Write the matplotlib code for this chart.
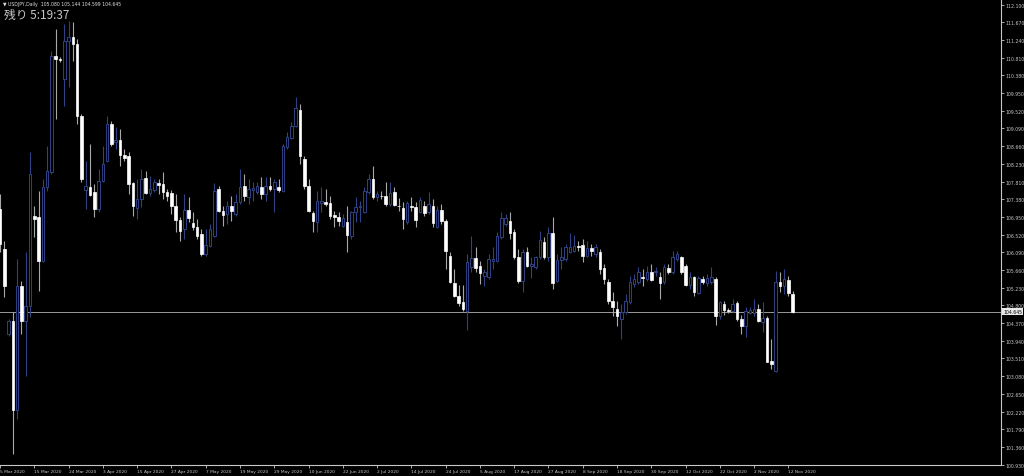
import matplotlib
matplotlib.use("Agg")
import matplotlib.pyplot as plt
import numpy as np

# daily USDJPY candles, first one (5 Mar) is cut off at the left edge
opens = [107.14, 106.17, 104.10, 104.42, 102.26, 105.27, 104.42, 104.78, 106.97, 106.94,
         105.88, 107.67, 108.04, 110.85, 110.78, 110.29, 111.22, 111.31, 111.14, 109.40,
         107.60, 107.67, 107.55, 107.14, 107.82, 108.30, 109.20, 108.76, 108.81, 108.45,
         108.42, 107.77, 107.16, 107.38, 107.89, 107.53, 107.60, 107.77, 107.75, 107.55,
         107.53, 107.21, 106.87, 106.65, 107.11, 106.80, 106.70, 106.53, 106.05, 106.24,
         106.48, 107.62, 107.09, 107.02, 107.21, 107.02, 107.31, 107.70, 107.43, 107.60,
         107.55, 107.67, 107.50, 107.70, 107.62, 107.67, 107.58, 108.64, 108.86, 109.15,
         109.54, 108.35, 107.70, 107.04, 106.82, 107.28, 107.31, 107.28, 106.99, 106.94,
         106.73, 106.82, 106.48, 107.07, 107.19, 107.07, 107.55, 107.87, 107.43, 107.46,
         107.45, 107.26, 107.55, 107.22, 107.16, 106.82, 107.21, 107.19, 107.07, 107.21,
         107.07, 107.21, 106.70, 107.11, 106.85, 106.00, 105.34, 105.03, 104.88, 104.66,
         105.73, 105.95, 105.75, 105.51, 105.49, 105.88, 105.88, 106.46, 106.77, 106.85,
         106.58, 105.97, 105.39, 106.09, 105.75, 105.73, 105.97, 106.34, 105.97, 106.56,
         105.39, 105.90, 105.92, 106.09, 106.12, 106.24, 106.26, 106.00, 106.19, 106.05,
         106.09, 105.71, 105.37, 104.90, 104.71, 104.47, 104.64, 104.88, 105.32, 105.37,
         105.49, 105.44, 105.61, 105.61, 105.49, 105.37, 105.71, 105.61, 105.92, 105.97,
         105.75, 105.29, 105.49, 105.10, 105.44, 105.34, 105.37, 105.44, 104.54, 104.83,
         104.69, 104.66, 104.86, 104.47, 104.30, 104.61, 104.61, 104.71, 104.40, 104.49,
         103.45, 103.21, 105.37, 105.27, 105.41, 105.080]
highs = [107.50, 106.36, 104.47, 104.64, 105.92, 105.39, 106.09, 108.52, 107.21, 107.58,
         107.87, 108.67, 110.97, 111.51, 110.83, 111.63, 111.70, 111.68, 111.27, 109.44,
         108.30, 108.72, 107.75, 108.11, 108.67, 109.40, 109.27, 109.13, 109.08, 108.59,
         108.52, 107.79, 107.87, 108.11, 108.06, 107.94, 107.87, 107.87, 108.04, 107.62,
         107.60, 107.50, 106.94, 107.50, 107.43, 107.07, 106.90, 106.65, 106.65, 106.77,
         107.77, 107.70, 107.21, 107.33, 107.45, 107.50, 108.11, 107.99, 107.87, 107.79,
         107.79, 107.92, 107.92, 107.92, 107.87, 107.87, 108.72, 109.01, 109.25, 109.86,
         109.69, 108.42, 107.87, 107.09, 107.58, 107.67, 107.62, 107.45, 107.09, 107.07,
         107.02, 107.21, 107.09, 107.43, 107.33, 107.67, 107.99, 108.18, 107.58, 107.58,
         107.79, 107.79, 107.67, 107.41, 107.31, 107.33, 107.43, 107.31, 107.43, 107.33,
         107.55, 107.38, 107.21, 107.26, 106.90, 106.09, 105.68, 105.29, 105.29, 106.05,
         106.48, 106.22, 105.88, 105.68, 106.05, 106.22, 106.58, 107.07, 107.02, 107.07,
         106.65, 106.17, 106.17, 106.22, 105.97, 106.00, 106.60, 106.46, 106.70, 106.94,
         106.05, 106.22, 106.29, 106.56, 106.51, 106.36, 106.41, 106.36, 106.29, 106.29,
         106.17, 105.80, 105.44, 105.12, 104.90, 104.83, 105.07, 105.51, 105.56, 105.73,
         105.68, 105.75, 105.80, 105.73, 105.61, 105.80, 105.80, 106.12, 106.12, 106.00,
         105.80, 105.61, 105.51, 105.51, 105.51, 105.56, 105.73, 105.49, 104.90, 104.90,
         104.73, 104.95, 104.90, 104.57, 104.76, 104.76, 104.95, 104.83, 104.88, 104.54,
         103.98, 105.63, 105.61, 105.68, 105.51, 105.144]
lows = [106.09, 105.00, 104.05, 101.19, 102.04, 104.10, 103.08, 104.52, 106.46, 105.15,
        105.85, 107.58, 107.99, 109.32, 110.71, 109.64, 110.10, 110.73, 109.20, 107.79,
        107.14, 107.45, 106.94, 107.07, 107.79, 108.28, 108.67, 108.59, 108.18, 108.30,
        107.50, 106.97, 106.90, 107.19, 107.50, 107.45, 107.55, 107.50, 107.38, 107.33,
        107.02, 106.58, 106.36, 106.41, 106.82, 106.63, 106.41, 106.00, 106.00, 106.22,
        106.46, 107.07, 106.73, 106.77, 106.85, 106.97, 107.26, 107.33, 107.26, 107.33,
        107.50, 107.38, 107.33, 107.58, 107.07, 107.55, 107.55, 108.59, 108.84, 109.13,
        108.23, 107.62, 107.07, 106.58, 106.58, 107.07, 107.21, 106.90, 106.70, 106.73,
        106.70, 106.09, 106.41, 106.82, 106.82, 107.05, 107.50, 107.38, 107.33, 107.38,
        107.21, 107.21, 107.21, 107.09, 106.65, 106.77, 107.09, 106.70, 107.04, 106.97,
        107.02, 106.70, 106.68, 106.77, 105.68, 105.34, 105.00, 104.78, 104.66, 104.20,
        105.61, 105.61, 105.32, 105.27, 105.44, 105.68, 105.85, 106.41, 106.73, 106.41,
        105.92, 105.34, 105.12, 105.73, 105.46, 105.68, 105.92, 105.92, 105.88, 105.20,
        105.37, 105.68, 105.88, 106.07, 106.09, 106.12, 105.85, 105.97, 106.00, 105.97,
        105.56, 105.32, 104.83, 104.54, 104.30, 103.98, 104.59, 104.83, 105.24, 105.32,
        105.27, 105.39, 105.39, 105.51, 104.95, 105.32, 105.56, 105.56, 105.88, 105.56,
        105.27, 105.20, 105.03, 105.07, 105.32, 105.27, 105.32, 104.32, 104.47, 104.57,
        104.61, 104.64, 104.42, 104.10, 104.03, 104.59, 104.54, 104.40, 104.15, 103.42,
        103.25, 103.18, 105.12, 105.07, 105.03, 104.599]
closes = [106.29, 105.27, 104.42, 102.26, 105.27, 104.42, 104.78, 107.99, 106.90, 105.88,
          107.67, 108.06, 110.85, 110.78, 110.76, 111.22, 111.31, 111.14, 109.40, 107.87,
          107.70, 107.48, 107.14, 107.82, 108.23, 109.20, 108.72, 108.81, 108.45, 108.38,
          107.75, 107.21, 107.38, 107.87, 107.53, 107.62, 107.79, 107.72, 107.55, 107.45,
          107.21, 106.87, 106.60, 107.11, 106.92, 106.70, 106.48, 106.05, 106.26, 106.65,
          107.58, 107.09, 106.99, 107.21, 107.09, 107.31, 107.67, 107.45, 107.62, 107.65,
          107.70, 107.50, 107.70, 107.62, 107.79, 107.60, 108.67, 108.89, 109.15, 109.59,
          108.42, 107.70, 107.09, 106.85, 107.33, 107.33, 107.26, 106.97, 106.94, 106.85,
          106.92, 106.51, 107.07, 107.19, 107.21, 107.58, 107.87, 107.43, 107.50, 107.45,
          107.26, 107.53, 107.24, 107.20, 106.90, 107.28, 107.19, 106.87, 107.36, 107.04,
          107.26, 106.80, 107.11, 106.85, 106.12, 105.37, 105.03, 104.86, 104.71, 105.85,
          105.95, 105.71, 105.58, 105.61, 105.92, 105.92, 106.48, 106.92, 106.92, 106.56,
          105.97, 105.39, 106.09, 105.75, 105.80, 105.97, 106.39, 105.97, 106.56, 105.34,
          105.90, 105.97, 106.22, 106.22, 106.24, 106.22, 106.00, 106.19, 106.12, 106.22,
          105.68, 105.44, 104.90, 104.76, 104.54, 104.64, 104.90, 105.37, 105.44, 105.61,
          105.46, 105.61, 105.41, 105.63, 105.34, 105.73, 105.61, 105.97, 106.05, 105.61,
          105.29, 105.49, 105.12, 105.46, 105.37, 105.46, 105.49, 104.54, 104.88, 104.69,
          104.66, 104.83, 104.47, 104.30, 104.66, 104.69, 104.71, 104.42, 104.49, 103.43,
          103.38, 105.37, 105.27, 105.44, 105.10, 104.645]

date_labels = ["5 Mar 2020", "15 Mar 2020", "24 Mar 2020", "3 Apr 2020", "15 Apr 2020",
               "27 Apr 2020", "7 May 2020", "19 May 2020", "29 May 2020", "10 Jun 2020",
               "22 Jun 2020", "2 Jul 2020", "14 Jul 2020", "24 Jul 2020", "5 Aug 2020",
               "17 Aug 2020", "27 Aug 2020", "8 Sep 2020", "18 Sep 2020", "30 Sep 2020",
               "12 Oct 2020", "22 Oct 2020", "2 Nov 2020", "12 Nov 2020"]
price_labels = ["100.930", "101.360", "101.790", "102.220", "102.650", "103.080", "103.510",
                "103.940", "104.370", "104.800", "105.230", "105.660", "106.090", "106.520",
                "106.950", "107.380", "107.810", "108.230", "108.660", "109.090", "109.520",
                "109.950", "110.380", "110.810", "111.240", "111.670", "112.100"]

o = np.array(opens)
h = np.array(highs)
l = np.array(lows)
c = np.array(closes)
x = np.arange(len(o)) - 1
up = c >= o

bull_col = '#2f4285'
bear_col = '#ffffff'
bear_wick = '#a8a8a8'
axis_col = '#c8c8c8'

fig = plt.figure(figsize=(10.24, 4.77), dpi=100, facecolor='black')
ax = fig.add_axes([0, 11/477, 1001/1024, 466/477], facecolor='black')

# wicks
ax.vlines(x[up], l[up], h[up], color=bull_col, lw=0.8, zorder=2)
ax.vlines(x[~up], l[~up], h[~up], color=bear_wick, lw=0.8, zorder=2)
# bodies
w = 0.6
ax.bar(x[up], np.maximum(c[up] - o[up], 0.012), bottom=o[up], width=w,
       facecolor='black', edgecolor=bull_col, linewidth=0.7, zorder=3)
ax.bar(x[~up], np.maximum(o[~up] - c[~up], 0.012), bottom=c[~up], width=w,
       facecolor=bear_col, edgecolor=bear_col, linewidth=0.5, zorder=3)

# current price line
last = closes[-1]
ax.axhline(last, color='#9a9a9a', lw=0.7, zorder=1)

ax.set_xlim(-0.70, 232.6)
ax.set_ylim(100.92, 112.236)

ticks_y = [100.930 + k * 0.42962 for k in range(len(price_labels))]
ax.yaxis.tick_right()
ax.set_yticks(ticks_y)
ax.set_yticklabels(price_labels)
ax.set_xticks([-1 + 8 * k for k in range(len(date_labels))])
ax.set_xticklabels(date_labels, ha='left')
ax.tick_params(axis='y', colors=axis_col, labelsize=3.3, length=2, width=0.6, pad=1.2)
ax.tick_params(axis='x', colors=axis_col, labelsize=3.2, length=2.5, width=0.6, pad=0.3)

for s in ['top', 'left']:
    ax.spines[s].set_visible(False)
for s in ['right', 'bottom']:
    ax.spines[s].set_color(axis_col)
    ax.spines[s].set_linewidth(0.8)

# price tag on the axis
ax.annotate(f"{last:.3f}", xy=(1.0, last), xycoords=('axes fraction', 'data'),
            xytext=(1.5, 0), textcoords='offset points', va='center', ha='left',
            fontsize=3.3, color='black',
            bbox=dict(boxstyle='square,pad=0.15', facecolor='#e8e8e8', edgecolor='none'))

fig.text(3/1024, 1 - 4.5/477, "\u25bc USDJPY,Daily  105.080 105.144 104.599 104.645",
         color='#e0e0e0', fontsize=3.3, va='center', ha='left')
fig.text(4/1024, 1 - 15/477, "残り 5:19:37", color='#c8c8c8', fontsize=8.5,
         va='center', ha='left', family=['Noto Sans CJK JP', 'DejaVu Sans'])

fig.savefig('out.png', dpi=100, facecolor='black')
